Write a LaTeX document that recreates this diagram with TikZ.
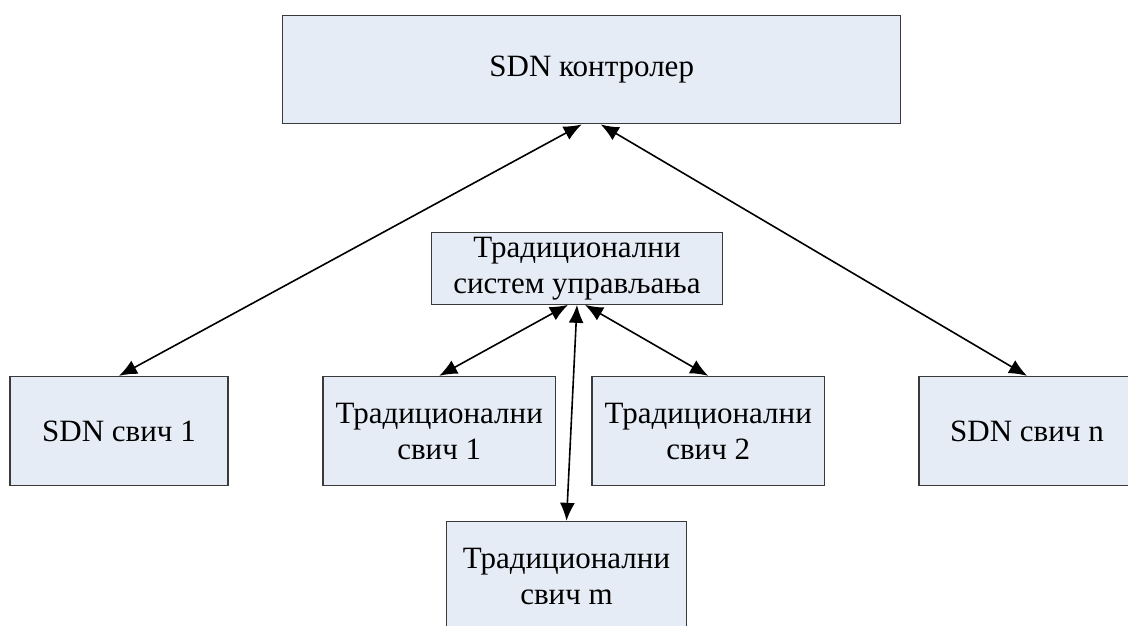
\documentclass[tikz,border=0pt]{standalone}
\usepackage{fontspec}
\setmainfont{Liberation Serif}
\usetikzlibrary{arrows.meta}
\definecolor{boxfill}{HTML}{E6ECF6}
\definecolor{boxline}{HTML}{3A3A3A}
\tikzset{
  box/.style={draw=boxline, line width=1.3pt, fill=boxfill, inner sep=0pt,
    align=center, font=\fontsize{31}{36}\selectfont},
  link/.style={line width=1.6pt, {Latex[length=18pt,width=15pt]}-{Latex[length=18pt,width=15pt]}}
}
\begin{document}
\begin{tikzpicture}[x=1pt,y=-1pt]
\useasboundingbox (0,0) rectangle (1128,626);
\fill[white] (0,0) rectangle (1128,626);
\clip (0,0) rectangle (1128,626);
\node[box, minimum width=618pt, minimum height=108.6pt] (ctrl) at (591.7,69.5) {SDN контролер};
\node[box, minimum width=290.7pt, minimum height=72pt] (mgmt) at (577,268.2) {Традиционални\\систем управљања};
\node[box, minimum width=218pt, minimum height=109pt] (sdn1) at (119,431) {SDN свич 1};
\node[box, minimum width=232.4pt, minimum height=109pt] (tsw1) at (439.2,431) {Традиционални\\свич 1};
\node[box, minimum width=232.4pt, minimum height=109pt] (tsw2) at (708.2,431) {Традиционални\\свич 2};
\node[box, minimum width=216pt, minimum height=109pt] (sdnn) at (1027,431) {SDN свич n};
\node[box, minimum width=239.6pt, minimum height=109pt] (tswm) at (566.5,576) {Традиционални\\свич m};
\draw[link] ([xshift=-10pt]ctrl.south) -- (sdn1.north);
\draw[link] ([xshift=9pt]ctrl.south) -- (sdnn.north);
\draw[link] ([xshift=-9pt]mgmt.south) -- (tsw1.north);
\draw[link] ([xshift=0pt]mgmt.south) -- (tswm.north);
\draw[link] ([xshift=8pt]mgmt.south) -- (tsw2.north);
\end{tikzpicture}
\end{document}
